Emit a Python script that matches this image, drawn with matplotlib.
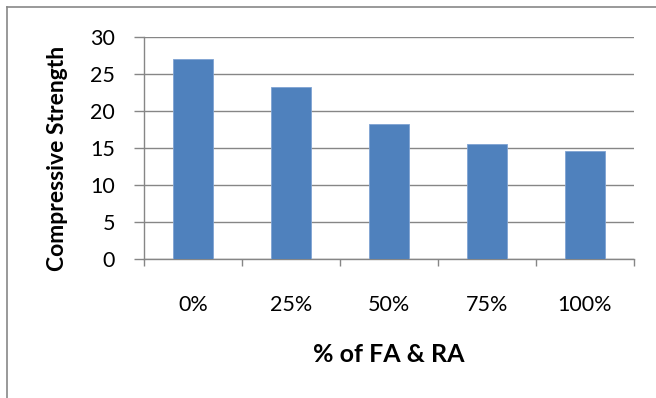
import numpy as np
import matplotlib
matplotlib.use("Agg")
import matplotlib.pyplot as plt
from matplotlib.lines import Line2D

categories = ["0%", "25%", "50%", "75%", "100%"]
strength = [27.0, 23.2, 18.3, 15.5, 14.6]

plt.rcParams['font.family'] = ['Lato', 'DejaVu Sans']

fig = plt.figure(figsize=(6.56, 3.98), dpi=100)
ax = fig.add_axes([144/656, 1 - 259/398, 490/656, 222/398])

x = np.arange(len(categories))
ax.bar(x, strength, width=0.4, color="#4F81BD", edgecolor="#7FA3D3", linewidth=0.6, zorder=3)

ax.set_xlim(-0.5, len(categories) - 0.5)
ax.set_ylim(0, 30)
ax.set_yticks(np.arange(0, 31, 5))
ax.yaxis.grid(True, color="#868686", linewidth=1.0, zorder=0)
ax.set_axisbelow(True)

# category ticks sit at the boundaries, labels in the middle
ax.set_xticks(np.arange(-0.5, len(categories), 1.0))
ax.set_xticklabels([])
ax.set_xticks(x, minor=True)
ax.set_xticklabels(categories, minor=True)
ax.tick_params(axis='x', which='major', direction='out', length=5, width=1, color="#868686")
ax.tick_params(axis='x', which='minor', length=0, pad=26, labelsize=15.5)
ax.tick_params(axis='y', direction='out', length=7, width=1, color="#868686", labelsize=15.5, pad=14)

for s in ["top", "right"]:
    ax.spines[s].set_visible(False)
for s in ["left", "bottom"]:
    ax.spines[s].set_color("#868686")
    ax.spines[s].set_linewidth(1.0)

ax.set_ylabel("Compressive Strength", fontsize=16.5, fontweight='bold')
ax.yaxis.set_label_coords(-0.155, 0.455)
ax.set_xlabel("% of FA & RA", fontsize=18, fontweight='bold', labelpad=20)

# chart area border (cropped on right and bottom)
fig.add_artist(Line2D([7/656, 7/656], [0, 1 - 7/398], transform=fig.transFigure, color="#888888", linewidth=1.2))
fig.add_artist(Line2D([7/656, 1], [1 - 7/398, 1 - 7/398], transform=fig.transFigure, color="#888888", linewidth=1.2))

fig.savefig("out.png", dpi=100)
